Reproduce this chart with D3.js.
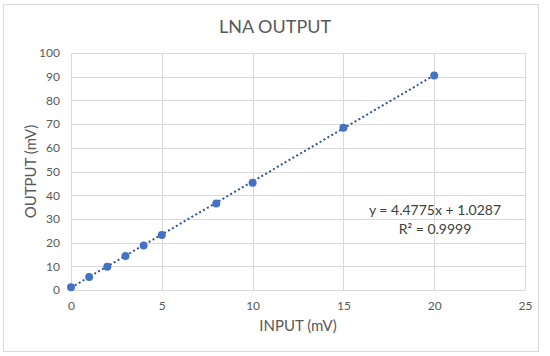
<!DOCTYPE html>
<html>
<head>
<meta charset="utf-8">
<script src="https://cdn.jsdelivr.net/npm/d3@7"></script>
<style>
	body { margin: 0; background: #fff; }
	svg text { font-family: Lato, "Open Sans", sans-serif; }
</style>
</head>
<body>
<svg id="chart"></svg>
<script>
// Chart data
const inputMv = [0, 1, 2, 3, 4, 5, 8, 10, 15, 20];
const outputMv = [1.2, 5.5, 9.8, 14.3, 18.8, 23.2, 36.5, 45.3, 68.5, 90.5];
const xTicks = [0, 5, 10, 15, 20, 25];
const yTicks = [0, 10, 20, 30, 40, 50, 60, 70, 80, 90, 100];
const trendSlope = 4.4775;
const trendIntercept = 1.0287;
const trendRange = [0, 20];

const width = 550;
const height = 356;

const margin = {
	top: 53,
	right: 25,
	bottom: 66,
	left: 71,
};

const innerWidth = width - margin.left - margin.right;
const innerHeight = height - margin.top - margin.bottom;

const svg = d3.select("#chart").attr("width", width).attr("height", height);

// outer frame
svg
	.append("rect")
	.attr("x", 3.5)
	.attr("y", 4.5)
	.attr("width", 535)
	.attr("height", 347)
	.attr("fill", "#fff")
	.attr("stroke", "#d9d9d9");

const xScale = d3.scaleLinear().domain([0, 25]).range([0, innerWidth]);
const yScale = d3.scaleLinear().domain([0, 100]).range([innerHeight, 0]);

const g = svg
	.append("g")
	.attr("transform", `translate(${margin.left}, ${margin.top})`);

// gridlines
g.append("g")
	.selectAll("line")
	.data(yTicks)
	.join("line")
	.attr("x1", 0)
	.attr("x2", innerWidth)
	.attr("y1", (d) => Math.round(yScale(d)) + 0.5)
	.attr("y2", (d) => Math.round(yScale(d)) + 0.5)
	.attr("stroke", "#d9d9d9");

g.append("g")
	.selectAll("line")
	.data(xTicks)
	.join("line")
	.attr("x1", (d) => Math.round(xScale(d)) + 0.5)
	.attr("x2", (d) => Math.round(xScale(d)) + 0.5)
	.attr("y1", 0)
	.attr("y2", innerHeight)
	.attr("stroke", "#d9d9d9");

// axes
const xAxis = g
	.append("g")
	.attr("transform", `translate(0, ${innerHeight})`)
	.call(d3.axisBottom(xScale).tickValues(xTicks).tickSize(0).tickPadding(11));
xAxis.select(".domain").remove();
xAxis
	.selectAll("text")
	.attr("fill", "#595959")
	.style("font-size", "12px")
	.style("font-family", "Lato, sans-serif");

const yAxis = g
	.append("g")
	.call(d3.axisLeft(yScale).tickValues(yTicks).tickSize(0).tickPadding(11));
yAxis.select(".domain").remove();
yAxis
	.selectAll("text")
	.attr("fill", "#595959")
	.style("font-size", "12px")
	.style("font-family", "Lato, sans-serif");

// trendline
const line = d3
	.line()
	.x((d) => xScale(d))
	.y((d) => yScale(trendSlope * d + trendIntercept));

g.append("path")
	.datum(trendRange)
	.attr("d", line)
	.attr("fill", "none")
	.attr("stroke", "#2f5597")
	.attr("stroke-width", 2)
	.attr("stroke-dasharray", "2,2.5");

// points
g.selectAll("circle")
	.data(inputMv)
	.join("circle")
	.attr("cx", (d) => xScale(d))
	.attr("cy", (d, i) => yScale(outputMv[i]))
	.attr("r", 4)
	.attr("fill", "#4472c4");

// titles
svg
	.append("text")
	.attr("x", 275)
	.attr("y", 33)
	.attr("text-anchor", "middle")
	.attr("fill", "#595959")
	.style("font-size", "18px")
	.text("LNA OUTPUT");

svg
	.append("text")
	.attr("x", margin.left + innerWidth / 2)
	.attr("y", 331)
	.attr("text-anchor", "middle")
	.attr("fill", "#595959")
	.style("font-size", "15px")
	.text("INPUT (mV)");

svg
	.append("text")
	.attr("transform", `translate(36, ${margin.top + innerHeight / 2}) rotate(-90)`)
	.attr("text-anchor", "middle")
	.attr("fill", "#595959")
	.style("font-size", "15px")
	.text("OUTPUT (mV)");

// equation label
svg
	.append("text")
	.attr("x", 435)
	.attr("y", 215)
	.attr("text-anchor", "middle")
	.attr("fill", "#404040")
	.style("font-size", "14px")
	.text(`y = ${trendSlope}x + ${trendIntercept}`);

svg
	.append("text")
	.attr("x", 435)
	.attr("y", 234)
	.attr("text-anchor", "middle")
	.attr("fill", "#404040")
	.style("font-size", "14px")
	.text("R² = 0.9999");
</script>
</body>
</html>
